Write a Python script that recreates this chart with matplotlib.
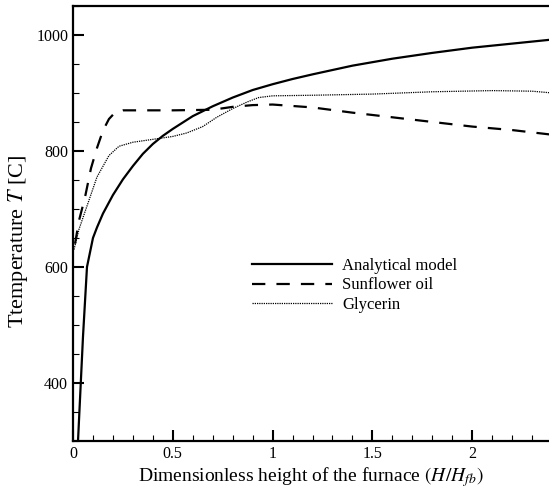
import matplotlib
matplotlib.use('Agg')
import matplotlib.pyplot as plt
from matplotlib.ticker import MultipleLocator

plt.rcParams['font.family'] = 'Liberation Serif'
plt.rcParams['mathtext.fontset'] = 'stix'

# analytical model
x_model = [0.025, 0.05, 0.07, 0.1, 0.12, 0.15, 0.2, 0.25, 0.3, 0.35, 0.4, 0.45, 0.5,
           0.6, 0.7, 0.8, 0.9, 1.0, 1.1, 1.2, 1.4, 1.6, 1.8, 2.0, 2.2, 2.4]
t_model = [300, 480, 600, 650, 668, 692, 724, 751, 774, 795, 812, 826, 838,
           860, 877, 892, 905, 915, 924, 932, 947, 959, 969, 978, 985, 992]

# sunflower oil
x_oil = [0.01, 0.03, 0.06, 0.09, 0.12, 0.15, 0.18, 0.21, 0.25, 0.5, 0.7, 0.8,
         0.9, 1.0, 1.2, 1.4, 1.6, 1.8, 2.0, 2.2, 2.4]
t_oil = [640, 680, 720, 770, 805, 835, 855, 866, 870, 870, 871, 876,
         879, 880, 875, 866, 858, 850, 842, 836, 828]

# glycerin
x_gly = [0.005, 0.03, 0.07, 0.12, 0.18, 0.23, 0.3, 0.4, 0.5, 0.57, 0.65, 0.72,
         0.8, 0.87, 0.93, 1.0, 1.2, 1.5, 1.8, 2.1, 2.3, 2.4]
t_gly = [630, 665, 705, 755, 792, 808, 815, 820, 825, 831, 842, 858,
         873, 884, 892, 895, 896, 898, 902, 904, 903, 900]

fig = plt.figure(figsize=(5.49, 4.93), dpi=100)
ax = fig.add_axes([0.133, 0.1055, 0.867, 0.8825])

ax.plot(x_model, t_model, color='black', lw=1.6, label='Analytical model')
ax.plot(x_oil, t_oil, color='black', lw=1.6, dashes=(6, 5), label='Sunflower oil')
ax.plot(x_gly, t_gly, color='black', lw=0.9, dashes=(1, 0.8), label='Glycerin')

ax.set_xlim(0, 2.385)
ax.set_ylim(300, 1050)
ax.xaxis.set_minor_locator(MultipleLocator(0.1))
ax.yaxis.set_major_locator(MultipleLocator(200))
ax.yaxis.set_minor_locator(MultipleLocator(50))
ax.set_xticks([0, 0.5, 1, 1.5, 2])
ax.set_xticklabels(['0', '0.5', '1', '1.5', '2'])

ax.tick_params(which='major', direction='in', length=8, width=1.5, labelsize=11.5)
ax.tick_params(which='minor', direction='in', length=4, width=0.8)
ax.spines['right'].set_visible(False)
for s in ['left', 'bottom', 'top']:
    ax.spines[s].set_linewidth(1.6)

ax.set_xlabel('Dimensionless height of the furnace $(H/H_{fb})$', fontsize=14, labelpad=2)
ax.set_ylabel('Ttemperature $T$ [C]', fontsize=16)
ax.yaxis.set_label_coords(-0.09, 0.46)

ax.legend(loc='upper left', bbox_to_anchor=(0.345, 0.455), frameon=False, fontsize=12,
          handlelength=4.8, handletextpad=0.6, labelspacing=0.2)

fig.savefig('out.png', dpi=100)
